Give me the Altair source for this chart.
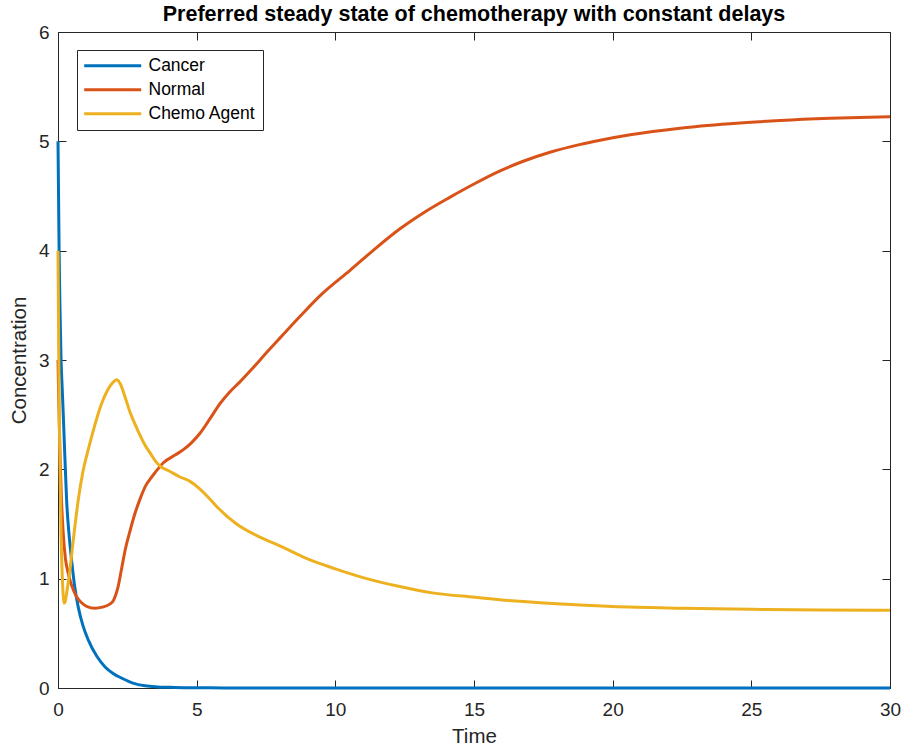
import altair as alt
import pandas as pd

# ---- data ----
cancer_t = [0, 0.02, 0.04, 0.07, 0.11, 0.15, 0.19, 0.25, 0.31, 0.4, 0.49, 0.6, 0.73, 0.9, 1.09, 1.4,
            1.69, 2.0, 2.3, 2.7, 3.14, 3.6, 4.2, 5, 6, 8, 10, 15, 20, 25, 30]
cancer_y = [5.0, 4.5, 4.0, 3.5, 3.0, 2.75, 2.5, 2.1, 1.72, 1.4, 1.17, 0.93, 0.74, 0.57, 0.44, 0.29,
            0.195, 0.13, 0.09, 0.045, 0.02, 0.01, 0.005, 0.002, 0.001, 0, 0, 0, 0, 0, 0]

normal_t = [0, 0.03, 0.07, 0.12, 0.19, 0.27, 0.37, 0.45, 0.55, 0.67, 0.85, 1.05, 1.33, 1.6, 1.85,
            2.0, 2.08, 2.17, 2.3, 2.42, 2.6, 2.78, 2.96, 3.14, 3.32, 3.5, 3.8, 4.22, 4.52, 4.8, 5.12,
            5.5, 5.84, 6.2, 6.56, 7.0, 7.53, 8.0, 8.73, 9.5, 10.53, 11.4, 12.33, 13.2, 14.14, 15.0,
            15.94, 16.8, 17.74, 18.8, 19.55, 20.63, 22.43, 24.23, 26.04, 27.84, 30]
normal_y = [3.0, 2.6, 2.15, 1.75, 1.41, 1.18, 1.05, 0.97, 0.9, 0.835, 0.78, 0.745, 0.73, 0.74, 0.765,
            0.8, 0.85, 0.93, 1.1, 1.26, 1.44, 1.6, 1.73, 1.84, 1.91, 1.97, 2.06, 2.13, 2.18, 2.24, 2.33,
            2.47, 2.6, 2.71, 2.8, 2.92, 3.07, 3.2, 3.4, 3.6, 3.82, 4.01, 4.2, 4.35, 4.49, 4.61,
            4.73, 4.82, 4.90, 4.97, 5.01, 5.06, 5.12, 5.16, 5.19, 5.21, 5.225]

chemo_t = [0, 0.02, 0.04, 0.06, 0.08, 0.11, 0.15, 0.19, 0.22, 0.26, 0.32, 0.43, 0.55, 0.73, 0.9, 1.09,
           1.3, 1.57, 1.8, 2.0, 2.12, 2.25, 2.42, 2.6, 2.8, 2.96, 3.14, 3.32, 3.5, 3.68, 4.04, 4.4,
           4.76, 5.12, 5.4, 5.72, 6.44, 7.28, 8.0, 9.0, 10, 11, 12.28, 13.5, 15.03, 16.5, 17.98, 20, 22.5,
           25, 27.5, 30]
chemo_y = [4.0, 3.3, 2.65, 2.25, 1.9, 1.41, 1.05, 0.84, 0.775, 0.79, 0.88, 1.08, 1.35, 1.72, 1.98, 2.18,
           2.38, 2.6, 2.73, 2.8, 2.82, 2.78, 2.66, 2.52, 2.40, 2.31, 2.22, 2.15, 2.08, 2.03, 1.98, 1.93,
           1.89, 1.82, 1.75, 1.66, 1.50, 1.38, 1.30, 1.18, 1.09, 1.01, 0.93, 0.87, 0.83, 0.795, 0.77, 0.745,
           0.73, 0.72, 0.713, 0.71]

series_names = ["Cancer", "Normal", "Chemo Agent"]
series_colors = ["#0072BD", "#D95319", "#EDB120"]
x_ticks = [0, 5, 10, 15, 20, 25, 30]
y_ticks = [0, 1, 2, 3, 4, 5, 6]

rows = []
for name, ts, vs in zip(series_names, [cancer_t, normal_t, chemo_t], [cancer_y, normal_y, chemo_y]):
    for t, v in zip(ts, vs):
        rows.append({"series": name, "t": t, "v": v})
df = pd.DataFrame(rows)

FONT = "Liberation Sans"
AX = "#262626"

xs = alt.Scale(domain=[0, 30], nice=False, zero=False)
ys = alt.Scale(domain=[0, 6], nice=False)

common = dict(grid=False, domain=False, tickSize=8, offset=-8, tickColor=AX, tickWidth=1,
              labelColor=AX, labelFont=FONT, labelFontSize=19, titleFont=FONT, titleFontSize=20.5,
              titleColor=AX, titleFontWeight="normal", labelFlush=False)

lines = alt.Chart(df).mark_line(strokeWidth=3, interpolate="monotone").encode(
    x=alt.X("t:Q", scale=xs,
            axis=alt.Axis(orient="bottom", values=x_ticks, title="Time", labelPadding=12,
                          titlePadding=7, **common)),
    y=alt.Y("v:Q", scale=ys,
            axis=alt.Axis(orient="left", values=y_ticks, title="Concentration", labelPadding=9,
                          titlePadding=8.5, **common)),
    color=alt.Color("series:N", scale=alt.Scale(domain=series_names, range=series_colors),
                    legend=alt.Legend(title=None, orient="none", legendX=19, legendY=18,
                                      direction="vertical", symbolType="M-1.5,0H8.5", symbolSize=130,
                                      symbolStrokeWidth=3, labelFont=FONT, labelFontSize=17.5,
                                      labelColor="black", labelOffset=47, rowPadding=5, padding=7,
                                      strokeColor=AX, fillColor="white", cornerRadius=0)),
)

ghost = alt.Chart(df).mark_point(opacity=0).encode(
    x=alt.X("t:Q", scale=xs,
            axis=alt.Axis(orient="top", values=x_ticks, labels=False, title=None, **common)),
    y=alt.Y("v:Q", scale=ys,
            axis=alt.Axis(orient="right", values=y_ticks, labels=False, title=None, **common)),
)

chart = alt.layer(lines, ghost).resolve_axis(x="independent", y="independent").properties(
    width=832, height=656,
    autosize=alt.AutoSizeParams(type="none"),
    padding={"left": 58, "top": 32, "right": 14, "bottom": 63},
    title=alt.TitleParams("Preferred steady state of chemotherapy with constant delays",
                          font=FONT, fontSize=21.5, fontWeight="bold", color="black",
                          anchor="middle", offset=-2),
).configure_view(stroke=AX, strokeWidth=1)

chart.save("out.html", embed_options={"renderer": "svg", "actions": False})
